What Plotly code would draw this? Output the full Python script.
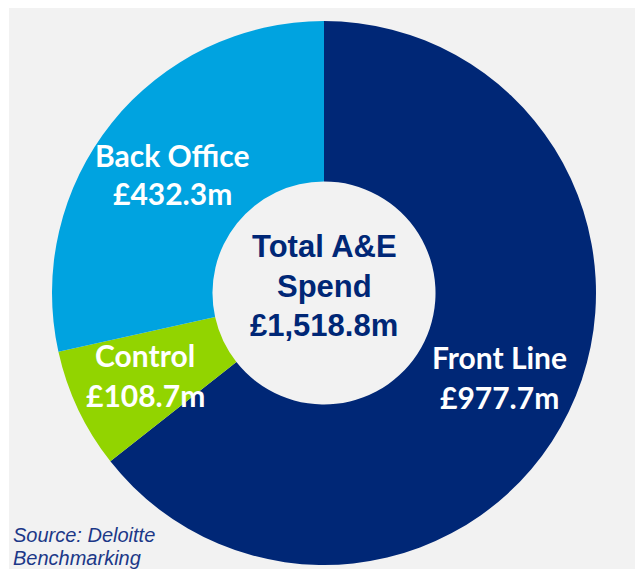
import plotly.graph_objects as go

# A&E spend split, £m
categories = ["Front Line", "Control", "Back Office"]
spend_m = [977.7, 108.7, 432.3]
total_label = "Total A&E"
total_label2 = "Spend"
total_spend_m = 1518.8
source_note = ["Source: Deloitte", "Benchmarking"]

colors = ["#002776", "#92d400", "#00a3e0"]
NAVY = "#002776"
BG = "#f2f2f2"

W, H = 635, 569

fig = go.Figure()
fig.add_trace(go.Pie(
    labels=categories,
    values=spend_m,
    sort=False,
    direction="clockwise",
    rotation=0,
    hole=0.41,
    marker=dict(colors=colors, line=dict(width=0)),
    textinfo="none",
    hoverinfo="label+value",
    showlegend=False,
    domain=dict(x=[48 / W, 600 / W], y=[4 / H, 548 / H]),
))

def px(x):
    return x / W

def py(y):
    return 1 - y / H

annotations = []
# slice labels: (x centre, name line y, value line y) in pixels
label_pos = {
    "Back Office": (172, 155, 193),
    "Control": (145, 355, 395),
    "Front Line": (499, 357, 397),
}
label_font = dict(family="Lato, 'Open Sans', sans-serif", size=30, color="white")
for name, value in zip(categories, spend_m):
    x, y1, y2 = label_pos[name]
    annotations.append(dict(x=px(x), y=py(y1), text=f"<b>{name}</b>", showarrow=False,
                            xref="paper", yref="paper", xanchor="center", yanchor="middle",
                            font=label_font))
    annotations.append(dict(x=px(x), y=py(y2), text=f"<b>£{value:,.1f}m</b>", showarrow=False,
                            xref="paper", yref="paper", xanchor="center", yanchor="middle",
                            font=label_font))

# centre total
centre_font = dict(family="'Liberation Sans', Arial, sans-serif", size=31, color=NAVY)
for txt, y in [(total_label, 246), (total_label2, 286), (f"£{total_spend_m:,.1f}m", 325)]:
    annotations.append(dict(x=px(324), y=py(y), text=f"<b>{txt}</b>", showarrow=False,
                            xref="paper", yref="paper", xanchor="center", yanchor="middle",
                            font=centre_font))

# source note
source_font = dict(family="'Liberation Sans', Arial, sans-serif", size=20, color="#1c3888")
for txt, y in zip(source_note, [535, 558]):
    annotations.append(dict(x=px(11), y=py(y), text=f"<i>{txt}</i>", showarrow=False,
                            xref="paper", yref="paper", xanchor="left", yanchor="middle",
                            font=source_font))

fig.update_layout(
    width=W,
    height=H,
    margin=dict(l=0, r=0, t=0, b=0),
    paper_bgcolor="white",
    plot_bgcolor="white",
    annotations=annotations,
    shapes=[dict(type="rect", xref="paper", yref="paper",
                 x0=9 / W, x1=1, y0=0, y1=1 - 8 / H,
                 fillcolor=BG, line=dict(width=0), layer="below")],
)

fig.write_html("out.html")
